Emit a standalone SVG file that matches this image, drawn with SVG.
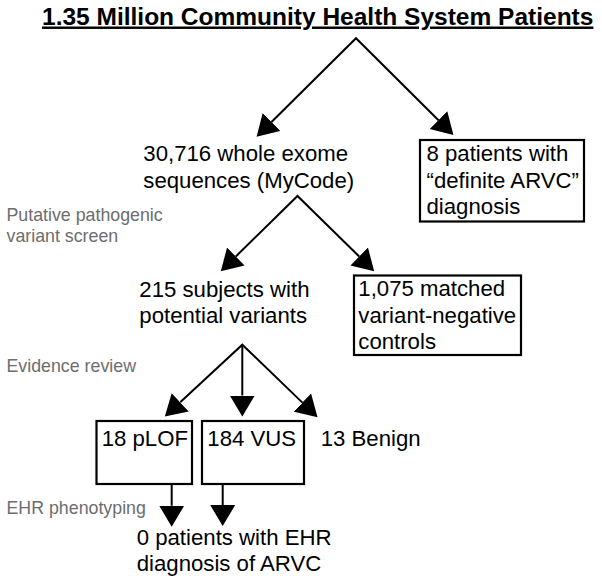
<svg xmlns="http://www.w3.org/2000/svg" width="602" height="583" viewBox="0 0 602 583">
<style>
.t{font-family:"Liberation Sans",Arial,Helvetica,sans-serif;font-size:22.2px;fill:#000}
.g{font-family:"Liberation Sans",Arial,Helvetica,sans-serif;font-size:17.8px;fill:#6d6d6d}
.b{fill:#fff;stroke:#000;stroke-width:2.2}
.c{fill:none;stroke:#000;stroke-width:2}
</style>
<defs>
<marker id="ah" markerUnits="userSpaceOnUse" markerWidth="22" markerHeight="26" refX="0" refY="12.5" orient="auto-start-reverse" viewBox="0 0 22 25">
<path d="M0,0 L21,12.5 L0,25 Z" fill="#000"/>
</marker>
</defs>
<g id="title">
<text x="42" y="24.5" font-family="Liberation Sans,Arial,sans-serif" font-size="24.5" font-weight="bold" text-decoration="underline">1.35 Million Community Health System Patients</text>
</g>
<g id="connectors">
<path class="c" d="M271.5,122 L356,38.2 L438.5,120.2" marker-start="url(#ah)" marker-end="url(#ah)"/>
<path class="c" d="M235.8,256.5 L297.5,196 L359.2,256.5" marker-start="url(#ah)" marker-end="url(#ah)"/>
<path class="c" d="M180.2,402.3 L242.3,344.7 L302.4,402.6" marker-start="url(#ah)" marker-end="url(#ah)"/>
<line class="c" x1="242.3" y1="344.7" x2="242.3" y2="395.5" marker-end="url(#ah)"/>
<line class="c" x1="171.7" y1="485" x2="171.7" y2="505.7" marker-end="url(#ah)"/>
<line class="c" x1="222.7" y1="485" x2="222.7" y2="505" marker-end="url(#ah)"/>
</g>
<g id="wes">
<text class="t" x="143.3" y="161">30,716 whole exome</text>
<text class="t" x="143.3" y="187.5">sequences (MyCode)</text>
</g>
<g id="arvc8">
<rect class="b" x="420" y="140" width="164" height="81.5"/>
<text class="t" x="426.5" y="161">8 patients with</text>
<text class="t" x="426.5" y="187.5">“definite ARVC”</text>
<text class="t" x="426.5" y="214">diagnosis</text>
</g>
<g id="label-screen">
<text class="g" x="6.5" y="221">Putative pathogenic</text>
<text class="g" x="6.5" y="242">variant screen</text>
</g>
<g id="subjects">
<text class="t" x="139.3" y="296.5">215 subjects with</text>
<text class="t" x="139.3" y="322.5">potential variants</text>
</g>
<g id="controls">
<rect class="b" x="354" y="275.5" width="167" height="79.5"/>
<text class="t" x="358.3" y="296">1,075 matched</text>
<text class="t" x="358.3" y="322.5">variant-negative</text>
<text class="t" x="358.3" y="348.5">controls</text>
</g>
<g id="label-evidence">
<text class="g" x="6.5" y="372">Evidence review</text>
</g>
<g id="plof">
<rect class="b" x="96.5" y="421" width="95.5" height="63"/>
<text class="t" x="101.7" y="446">18 pLOF</text>
</g>
<g id="vus">
<rect class="b" x="202" y="421" width="102" height="63"/>
<text class="t" x="207.3" y="446">184 VUS</text>
</g>
<g id="benign">
<text class="t" x="320.7" y="446">13 Benign</text>
</g>
<g id="label-ehr">
<text class="g" x="6.5" y="513.5">EHR phenotyping</text>
</g>
<g id="ehr">
<text class="t" x="136.7" y="544.5">0 patients with EHR</text>
<text class="t" x="136.7" y="571">diagnosis of ARVC</text>
</g>
</svg>
